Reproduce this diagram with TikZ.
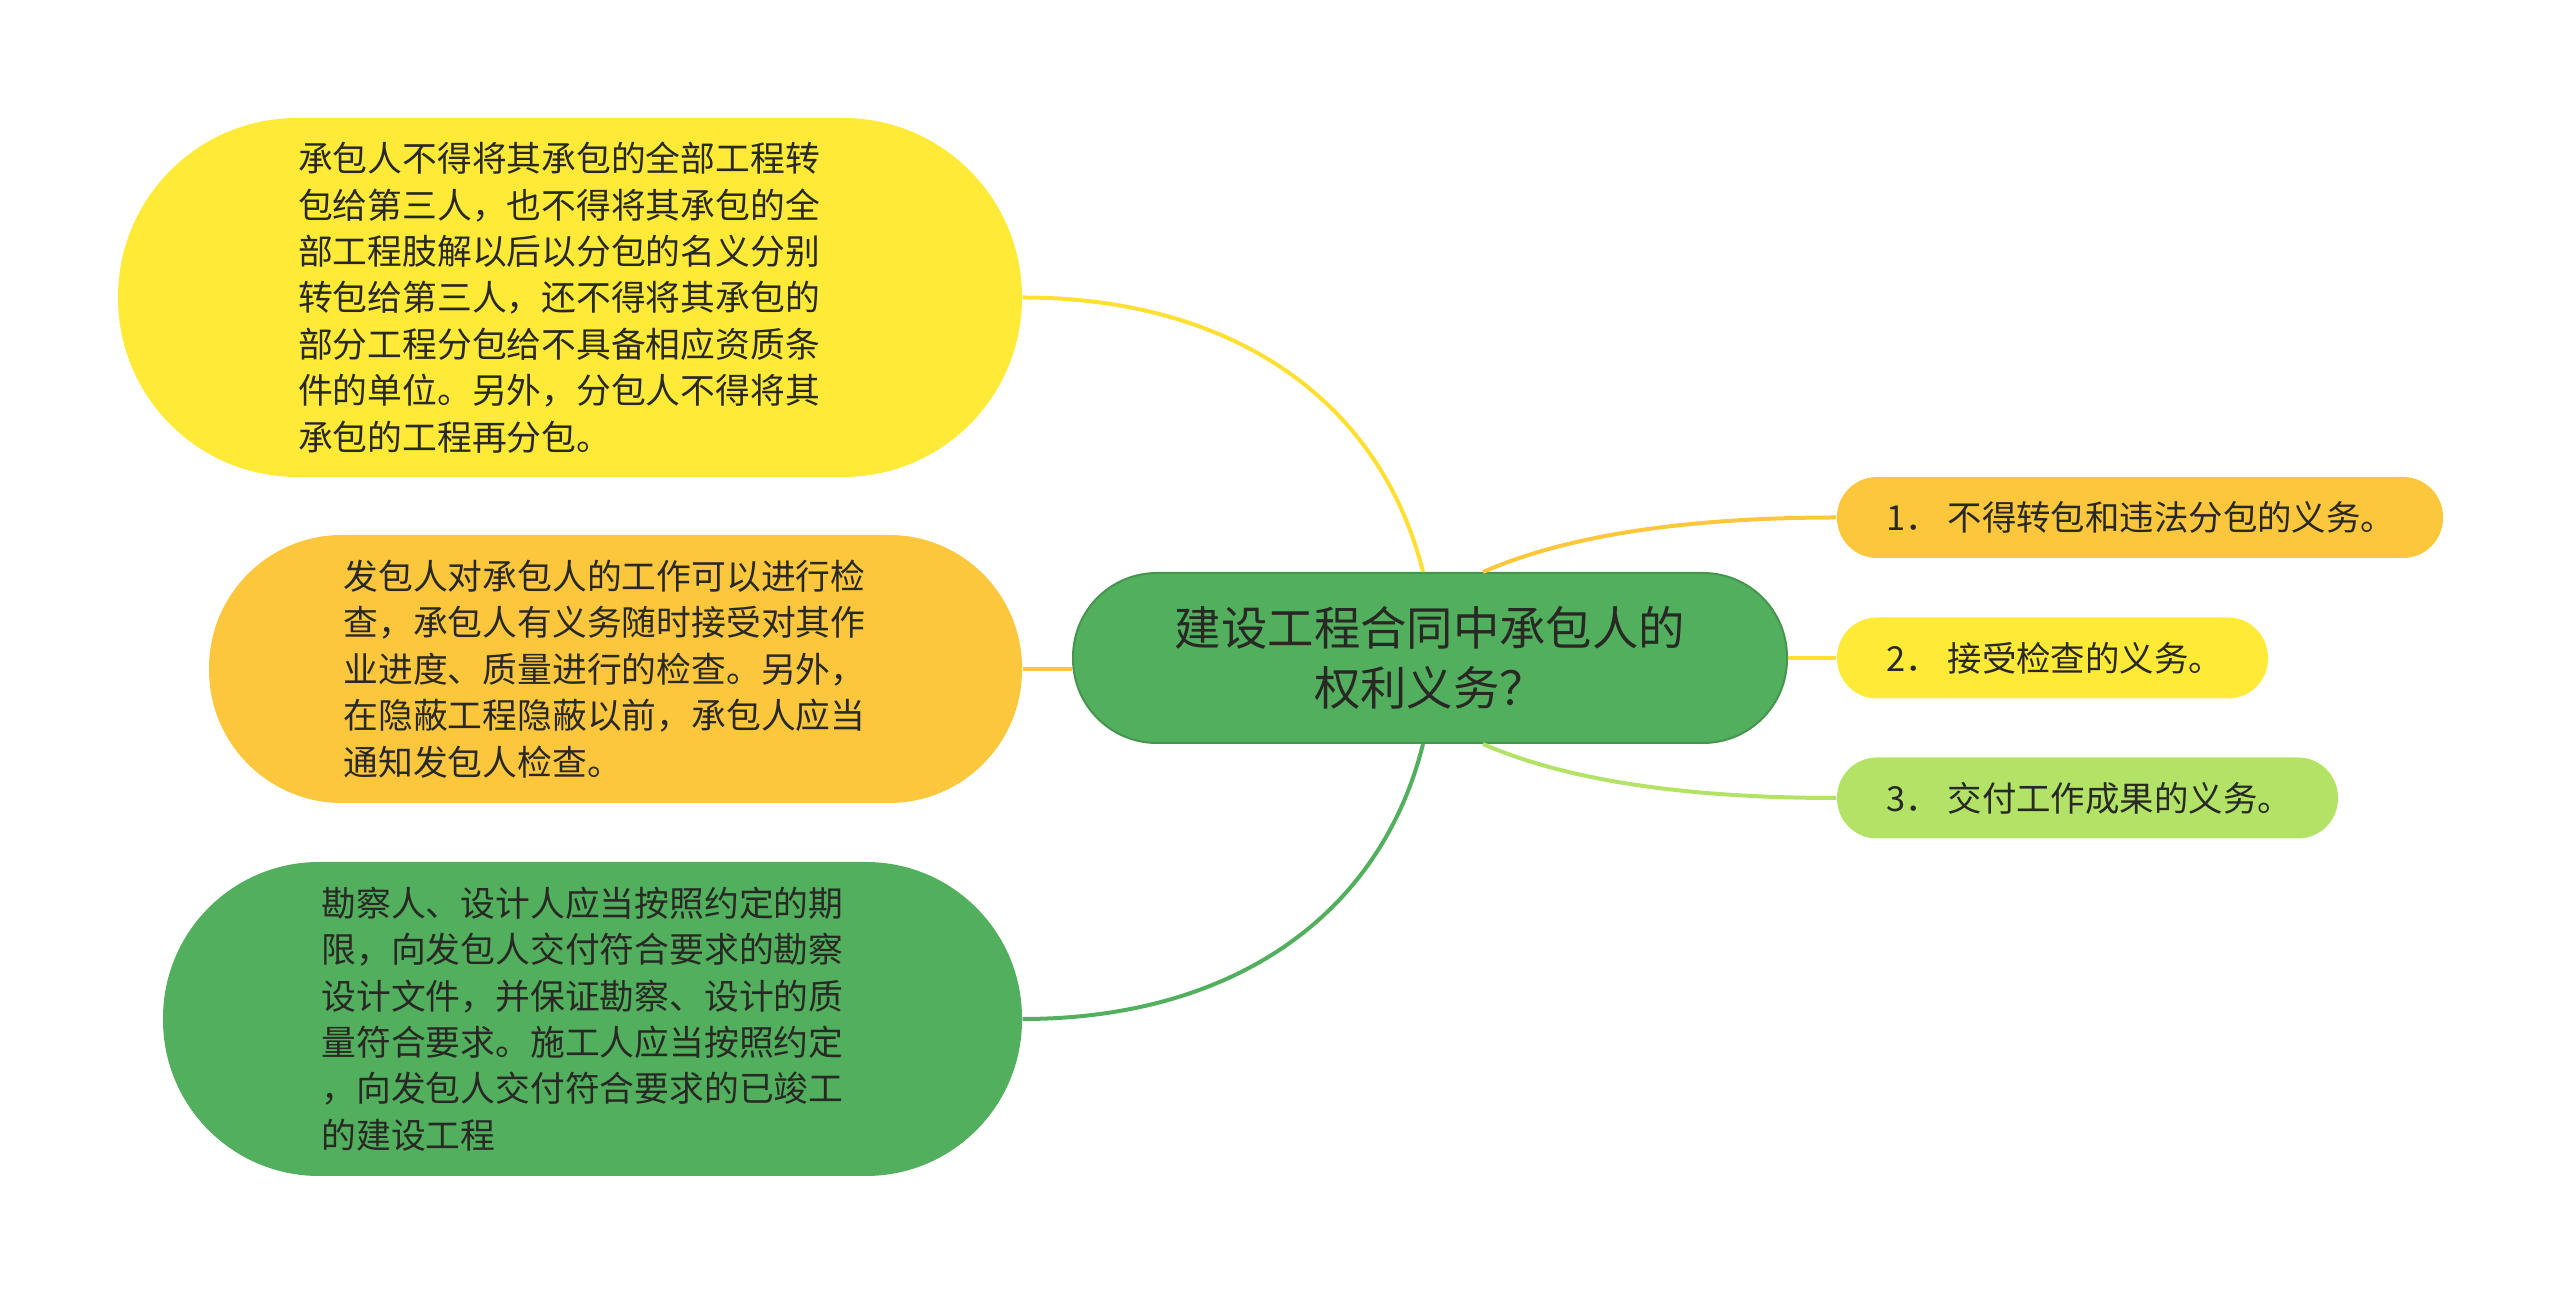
\documentclass[tikz,border=0pt]{standalone}
\usepackage{fontspec}
\setmainfont{Noto Sans CJK SC}
\usepackage{tikz}
\usetikzlibrary{positioning,calc}
\usepackage{xcolor}
\definecolor{inkdark}{RGB}{40,40,36}
\definecolor{sunyellow}{RGB}{255,234,56}
\definecolor{amber}{RGB}{252,199,61}
\definecolor{leafgreen}{RGB}{82,175,93}
\definecolor{limegreen}{RGB}{178,227,102}

\begin{document}
\begin{tikzpicture}[
    x=0.1mm, y=-0.1mm,
    blob/.style={rectangle, text=inkdark, align=left, inner sep=0pt, font=\fontsize{9.9}{13.2}\selectfont},
    tag/.style={rectangle, text=inkdark, align=left, inner xsep=4.9mm, inner ysep=0pt, minimum height=8.1mm, rounded corners=4mm, font=\fontsize{9.8}{12}\selectfont},
    link/.style={line width=0.4mm}
]
\useasboundingbox (0,0) rectangle (2560,1293);

% Center
\node (center) [blob, fill=leafgreen, draw=leafgreen!85!black, line width=0.2mm, align=center, minimum width=71.4mm, minimum height=17mm, rounded corners=8.4mm, font=\fontsize{13.2}{17}\selectfont] at (1430,658) {建设工程合同中承包人的\\权利义务？};

% Left side
\node (bigY) [blob, fill=sunyellow, minimum width=90.4mm, minimum height=35.9mm, rounded corners=17.9mm] at (570,297.5) {承包人不得将其承包的全部工程转\hspace*{2.2mm}\\包给第三人，也不得将其承包的全\\部工程肢解以后以分包的名义分别\\转包给第三人，还不得将其承包的\\部分工程分包给不具备相应资质条\\件的单位。另外，分包人不得将其\\承包的工程再分包。};
\node (orangeL) [blob, fill=amber, minimum width=81.3mm, minimum height=26.8mm, rounded corners=13.3mm] at (615.5,669) {发包人对承包人的工作可以进行检\hspace*{2.2mm}\\查，承包人有义务随时接受对其作\\业进度、质量进行的检查。另外，\\在隐蔽工程隐蔽以前，承包人应当\\通知发包人检查。};
\node (greenL) [blob, fill=leafgreen, minimum width=85.9mm, minimum height=31.4mm, rounded corners=15.6mm] at (592.5,1019) {勘察人、设计人应当按照约定的期\hspace*{2mm}\\限，向发包人交付符合要求的勘察\\设计文件，并保证勘察、设计的质\\量符合要求。施工人应当按照约定\\，向发包人交付符合要求的已竣工\\的建设工程};

% Right side
\node (r1) [tag, fill=amber, text width=50.8mm] at (2140,517.5) {1．\kern0.8mm 不得转包和违法分包的义务。};
\node (r2) [tag, fill=sunyellow, text width=33.3mm] at (2052.5,658) {2．\kern0.8mm 接受检查的义务。};
\node (r3) [tag, fill=limegreen, text width=40.3mm] at (2087.5,798) {3．\kern0.8mm 交付工作成果的义务。};

% Connections
\draw[link, sunyellow!90!orange] (bigY.east) .. controls +(208,0) and +(-43,-173) .. ([xshift=-0.7mm]center.north);
\draw[link, amber] (orangeL.east) -- (orangeL.east -| center.west);
\draw[link, leafgreen] (greenL.east) .. controls +(208,0) and +(-43,173) .. ([xshift=-0.7mm]center.south);
\draw[link, amber] ([xshift=5.3mm]center.north) .. controls +(80,-35) and +(-157,0) .. (r1.west);
\draw[link, sunyellow!90!orange] (center.east) -- (r2.west);
\draw[link, limegreen] ([xshift=5.3mm]center.south) .. controls +(80,35) and +(-157,0) .. (r3.west);

\end{tikzpicture}
\end{document}
